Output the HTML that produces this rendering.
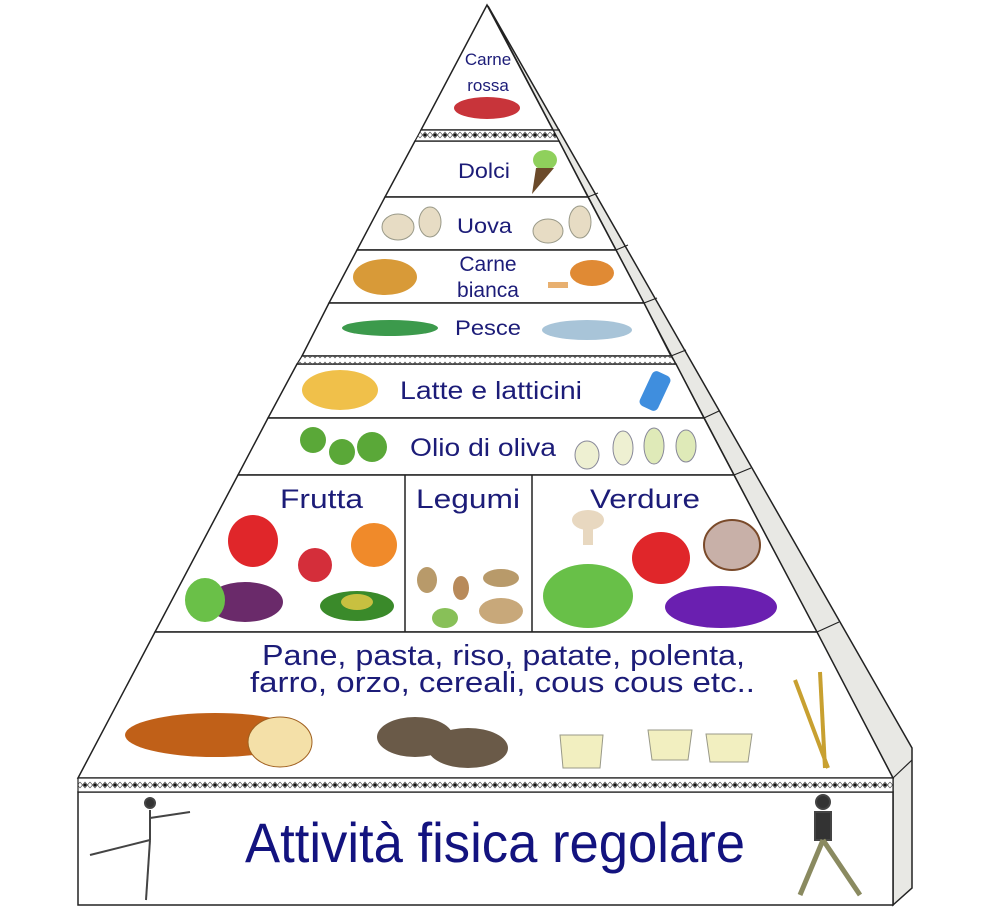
<!DOCTYPE html>
<html><head><meta charset="utf-8"><style>
html,body{margin:0;padding:0;background:#fff;}
svg{display:block;}
text{font-family:"Liberation Sans",sans-serif;fill:#1c1c78;}
</style></head><body>
<svg width="1000" height="911" viewBox="0 0 1000 911" xmlns="http://www.w3.org/2000/svg">
<defs>
<pattern id="dots" width="10" height="10" patternUnits="userSpaceOnUse">
<rect width="10" height="10" fill="#fff"/>
<path d="M0 2 L5 8 L10 2 M0 8 L5 2 L10 8" stroke="#555" stroke-width="0.7" fill="none"/>
<circle cx="5" cy="5" r="1.6" fill="#111"/>
</pattern>
</defs>
<polygon points="488,6 912,748 912,888 893,905 893,778" fill="#e8e8e4" stroke="#222" stroke-width="1.5"/>
<g stroke="#222" stroke-width="1.2">
<line x1="553" y1="130" x2="560" y2="130"/>
<line x1="588" y1="197" x2="598" y2="193"/>
<line x1="616" y1="250" x2="628" y2="245"/>
<line x1="644" y1="303" x2="657" y2="298"/>
<line x1="671" y1="356" x2="686" y2="350"/>
<line x1="704" y1="418" x2="719" y2="411"/>
<line x1="734" y1="475" x2="751" y2="468"/>
<line x1="817" y1="632" x2="839" y2="622"/>
<line x1="893" y1="778" x2="912" y2="760"/>
</g>
<g fill="#fff" stroke="#222" stroke-width="1.5">
<polygon points="487,5 421,130 553,130"/>
<polygon points="415,141 559,141 588,197 385,197"/>
<polygon points="385,197 588,197 616,250 357,250"/>
<polygon points="357,250 616,250 644,303 329,303"/>
<polygon points="329,303 644,303 671,356 302,356"/>
<polygon points="297,364 676,364 704,418 268,418"/>
<polygon points="268,418 704,418 734,475 238,475"/>
<polygon points="238,475 734,475 817,632 155,632"/>
<polygon points="155,632 817,632 893,778 78,778"/>
<rect x="78" y="792" width="815" height="113"/>
</g>
<polygon points="421,130 553,130 559,141 415,141" fill="url(#dots)" stroke="#222" stroke-width="1.2"/>
<polygon points="302,356 671,356 676,364 297,364" fill="url(#dots)" stroke="#222" stroke-width="1.2"/>
<rect x="78" y="778" width="815" height="14" fill="url(#dots)" stroke="#222" stroke-width="1.2"/>
<line x1="405" y1="475" x2="405" y2="632" stroke="#222" stroke-width="1.5"/>
<line x1="532" y1="475" x2="532" y2="632" stroke="#222" stroke-width="1.5"/>

<text x="488" y="65" font-size="17" text-anchor="middle">Carne</text>
<text x="488" y="91" font-size="17" text-anchor="middle">rossa</text>
<text x="458" y="178" font-size="21" textLength="52" lengthAdjust="spacingAndGlyphs">Dolci</text>
<text x="457" y="233" font-size="21" textLength="55" lengthAdjust="spacingAndGlyphs">Uova</text>
<text x="488" y="271" font-size="21" text-anchor="middle">Carne</text>
<text x="488" y="297" font-size="21" text-anchor="middle">bianca</text>
<text x="455" y="335" font-size="21" textLength="66" lengthAdjust="spacingAndGlyphs">Pesce</text>
<text x="400" y="399" font-size="25" textLength="182" lengthAdjust="spacingAndGlyphs">Latte e latticini</text>
<text x="410" y="456" font-size="25" textLength="146" lengthAdjust="spacingAndGlyphs">Olio di oliva</text>
<text x="280" y="508" font-size="27" textLength="83" lengthAdjust="spacingAndGlyphs">Frutta</text>
<text x="416" y="508" font-size="27" textLength="104" lengthAdjust="spacingAndGlyphs">Legumi</text>
<text x="590" y="508" font-size="27" textLength="110" lengthAdjust="spacingAndGlyphs">Verdure</text>
<text x="262" y="665" font-size="29" textLength="483" lengthAdjust="spacingAndGlyphs">Pane, pasta, riso, patate, polenta,</text>
<text x="250" y="692" font-size="29" textLength="505" lengthAdjust="spacingAndGlyphs">farro, orzo, cereali, cous cous etc..</text>
<text x="245" y="862" font-size="56" textLength="500" lengthAdjust="spacingAndGlyphs" style="fill:#13137f">Attività fisica regolare</text>

<ellipse cx="487" cy="108" rx="33" ry="11" fill="#c8343a"/>
<ellipse cx="545" cy="160" rx="12" ry="10" fill="#8fd05c"/>
<polygon points="536,168 554,168 532,194" fill="#6b4a2a"/>
<ellipse cx="398" cy="227" rx="16" ry="13" fill="#e7dcc4" stroke="#998" />
<ellipse cx="430" cy="222" rx="11" ry="15" fill="#e7dcc4" stroke="#998"/>
<ellipse cx="548" cy="231" rx="15" ry="12" fill="#e7dcc4" stroke="#998"/>
<ellipse cx="580" cy="222" rx="11" ry="16" fill="#e7dcc4" stroke="#998"/>
<ellipse cx="385" cy="277" rx="32" ry="18" fill="#d89a38"/>
<ellipse cx="592" cy="273" rx="22" ry="13" fill="#e08a34"/>
<rect x="548" y="282" width="20" height="6" fill="#e8b070"/>
<ellipse cx="390" cy="328" rx="48" ry="8" fill="#3c9a4c"/>
<ellipse cx="587" cy="330" rx="45" ry="10" fill="#a8c4d8"/>
<ellipse cx="340" cy="390" rx="38" ry="20" fill="#f0c04a"/>
<rect x="645" y="372" width="20" height="38" rx="5" fill="#3f8ede" transform="rotate(25 655 391)"/>
<circle cx="313" cy="440" r="13" fill="#5aa838"/>
<circle cx="342" cy="452" r="13" fill="#5aa838"/>
<circle cx="372" cy="447" r="15" fill="#5aa838"/>
<ellipse cx="587" cy="455" rx="12" ry="14" fill="#eef0d2" stroke="#889"/>
<ellipse cx="623" cy="448" rx="10" ry="17" fill="#eef0d2" stroke="#889"/>
<ellipse cx="654" cy="446" rx="10" ry="18" fill="#dfeab8" stroke="#889"/>
<ellipse cx="686" cy="446" rx="10" ry="16" fill="#dfeab8" stroke="#889"/>
<ellipse cx="253" cy="541" rx="25" ry="26" fill="#e0262a"/>
<ellipse cx="315" cy="565" rx="17" ry="17" fill="#d42e3a"/>
<ellipse cx="374" cy="545" rx="23" ry="22" fill="#f08a2a"/>
<ellipse cx="245" cy="602" rx="38" ry="20" fill="#6a2a6a"/>
<ellipse cx="205" cy="600" rx="20" ry="22" fill="#6ac048"/>
<ellipse cx="357" cy="606" rx="37" ry="15" fill="#3a8a2a"/>
<ellipse cx="357" cy="602" rx="16" ry="8" fill="#c8c040"/>
<ellipse cx="427" cy="580" rx="10" ry="13" fill="#b89a6a"/>
<ellipse cx="461" cy="588" rx="8" ry="12" fill="#b88a5a"/>
<ellipse cx="501" cy="578" rx="18" ry="9" fill="#b89a6a"/>
<ellipse cx="501" cy="611" rx="22" ry="13" fill="#c8a87a"/>
<ellipse cx="445" cy="618" rx="13" ry="10" fill="#88c058"/>
<ellipse cx="588" cy="520" rx="16" ry="10" fill="#e8d8c0"/>
<rect x="583" y="525" width="10" height="20" fill="#e8d8c0"/>
<ellipse cx="661" cy="558" rx="29" ry="26" fill="#e0262a"/>
<ellipse cx="732" cy="545" rx="28" ry="25" fill="#c8b0a8" stroke="#7a4a2a" stroke-width="2"/>
<ellipse cx="588" cy="596" rx="45" ry="32" fill="#68c048"/>
<ellipse cx="721" cy="607" rx="56" ry="21" fill="#6a1fb0"/>
<ellipse cx="215" cy="735" rx="90" ry="22" fill="#c06018"/>
<ellipse cx="280" cy="742" rx="32" ry="25" fill="#f4e0a8" stroke="#a06020"/>
<ellipse cx="415" cy="737" rx="38" ry="20" fill="#6a5a48"/>
<ellipse cx="468" cy="748" rx="40" ry="20" fill="#6a5a48"/>
<path d="M560 735 L603 735 L600 768 L563 768 Z" fill="#f2efc0" stroke="#998"/>
<path d="M648 730 L692 730 L688 760 L652 760 Z" fill="#f2efc0" stroke="#998"/>
<path d="M706 734 L752 734 L748 762 L710 762 Z" fill="#f2efc0" stroke="#998"/>
<g stroke="#c8a030" stroke-width="4"><line x1="795" y1="680" x2="828" y2="768"/><line x1="820" y1="672" x2="825" y2="768"/></g>
<g fill="#bbb" stroke="#444" stroke-width="2">
<circle cx="150" cy="803" r="5" fill="#333"/>
<line x1="150" y1="810" x2="150" y2="840"/><line x1="150" y1="818" x2="190" y2="812"/>
<line x1="150" y1="840" x2="90" y2="855"/><line x1="150" y1="840" x2="146" y2="900"/>
<circle cx="823" cy="802" r="7" fill="#333"/>
<rect x="815" y="812" width="16" height="28" fill="#333"/>
<line x1="823" y1="840" x2="800" y2="895" stroke="#8a8a60" stroke-width="5"/>
<line x1="823" y1="840" x2="860" y2="895" stroke="#8a8a60" stroke-width="5"/>
</g>
</svg>
</body></html>
